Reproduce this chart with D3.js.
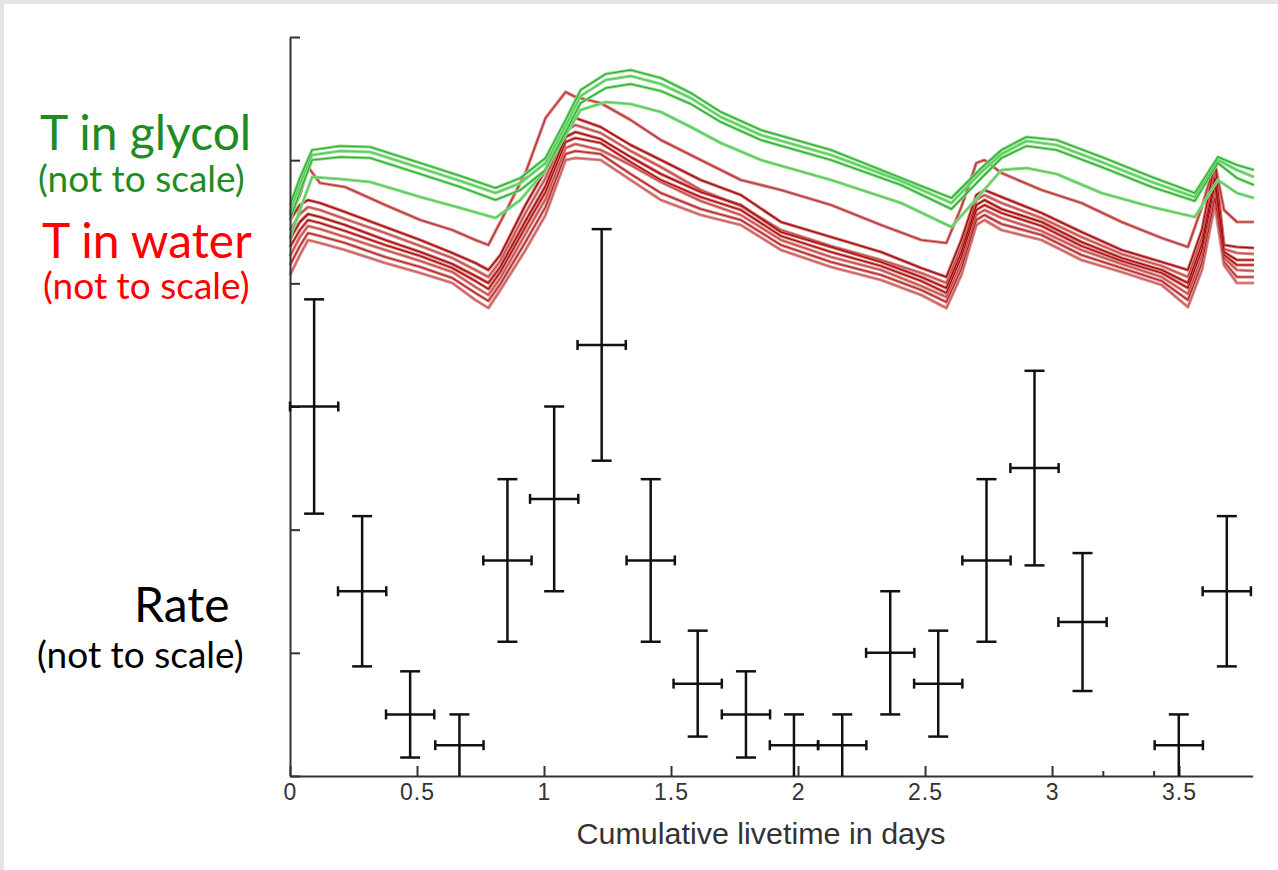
<!DOCTYPE html>
<html>
<head>
<meta charset="utf-8">
<script src="https://cdn.jsdelivr.net/npm/d3@7"></script>
<style>
body{margin:0;background:#fff}
svg{display:block}
</style>
</head>
<body>
<svg id="chart" width="1278" height="870"></svg>
<script>
// rate histogram (arbitrary units), one entry per filled time bin
const binCenters=[0.095,0.284,0.473,0.667,0.856,1.04,1.227,1.42,1.605,1.795,1.984,2.174,2.363,2.552,2.742,2.931,3.12,3.499,3.688];
const rates=[3.0,1.5,0.5,0.25,1.75,2.25,3.5,1.75,0.75,0.5,0.25,0.25,1.0,0.75,1.75,2.5,1.25,0.25,1.5];
const rateErr=[0.87,0.61,0.35,0.25,0.66,0.75,0.94,0.66,0.43,0.35,0.25,0.25,0.5,0.43,0.66,0.79,0.56,0.25,0.61];
const binHalf=0.095;

const xTicks=[0,0.5,1,1.5,2,2.5,3,3.5];
const minorTicks=[3.2,3.4];
const yTicks=[0,1,2,3,4,5,6];

// temperature traces (not to scale)
const glycolTimes=[0,0.039,0.087,0.197,0.316,0.513,0.671,0.809,0.907,1.006,1.085,1.144,1.243,1.341,1.46,1.578,1.696,1.854,2.13,2.406,2.604,2.722,2.801,2.899,3.018,3.195,3.393,3.562,3.653,3.728,3.795];
const glycol1=[11.5,14.2,17.0,17.4,17.3,15.7,14.4,13.2,14.2,16.2,20.0,23.0,24.6,25.0,24.2,22.7,20.8,19.0,17.0,14.2,12.2,15.2,17.0,18.3,18.0,16.3,14.3,12.7,16.3,15.5,15.0];
const glycol2=[10.8,13.6,16.5,16.9,16.8,15.2,13.9,12.7,13.7,15.7,19.4,22.4,24.0,24.4,23.6,22.2,20.3,18.5,16.5,13.9,11.7,14.8,16.6,17.9,17.5,15.8,13.8,12.3,16.0,15.0,14.3];
const glycol3=[10.0,12.8,16.0,16.3,16.2,14.6,13.3,12.0,13.0,15.0,18.8,21.7,23.2,23.6,22.9,21.6,19.8,18.0,16.0,13.5,11.1,14.2,16.2,17.4,17.0,15.3,13.3,11.9,15.7,14.2,13.5];
const glycol4=[8.2,11.0,14.3,14.1,13.8,12.3,11.2,10.2,12.0,15.0,18.5,21.0,21.8,21.6,20.8,19.3,17.7,16.0,14.0,11.7,9.3,12.7,15.0,15.2,14.6,12.7,11.3,10.3,14.0,12.7,12.2];

const waterTimes=[0,0.039,0.071,0.118,0.217,0.375,0.513,0.639,0.73,0.781,0.828,0.927,1.006,1.085,1.124,1.223,1.341,1.46,1.617,1.775,1.933,2.13,2.327,2.485,2.584,2.643,2.702,2.734,2.801,2.959,3.116,3.274,3.432,3.535,3.59,3.641,3.677,3.728,3.795];
const water1=[10.5,12.5,15.3,13.7,13.3,11.5,10.0,9.0,8.0,7.5,9.8,14.7,20.2,22.8,22.3,21.7,20.0,18.0,16.0,14.0,13.0,11.5,9.5,8.0,7.7,11.3,15.7,16.0,14.7,13.0,11.7,9.8,8.2,7.3,11.3,15.7,11.0,9.8,9.8];
const water2=[10.0,11.5,12.0,11.7,10.8,9.3,8.0,6.7,5.7,5.0,6.5,11.5,15.0,19.5,20.2,19.3,17.5,16.0,14.0,12.5,9.8,8.3,6.8,5.2,4.3,8.0,12.5,13.0,12.3,10.7,8.8,7.0,5.8,5.0,9.0,15.7,7.5,7.3,7.2];
const water3=[9.0,10.6,11.3,11.0,10.1,8.7,7.4,6.2,5.0,4.3,5.9,10.7,14.2,18.9,19.5,18.7,16.9,15.3,13.0,11.4,9.0,7.4,6.0,4.7,3.7,7.4,12.0,12.5,11.7,10.2,8.3,6.6,5.4,4.3,8.3,14.9,7.1,6.7,6.6];
const water4=[8.1,9.8,10.6,10.3,9.5,8.0,6.8,5.6,4.4,3.7,5.3,9.9,13.4,18.3,18.8,18.1,16.3,14.6,12.8,11.5,8.8,7.3,5.8,4.3,3.2,6.8,11.5,12.0,11.1,9.8,7.8,6.2,5.0,3.7,7.6,14.2,6.8,6.0,6.0];
const water5=[7.3,9.0,10.0,9.7,8.9,7.5,6.4,5.2,3.9,3.1,4.8,9.3,12.8,17.8,18.2,17.7,15.8,14.0,12.3,11.0,8.4,6.8,5.4,3.9,2.7,6.3,11.0,11.5,10.7,9.4,7.4,5.9,4.7,3.2,7.0,13.6,6.5,5.5,5.5];
const water6=[6.4,8.3,9.4,9.1,8.3,7.0,5.9,4.8,3.3,2.5,4.2,8.6,12.1,17.2,17.6,17.0,15.5,13.8,11.9,10.5,8.0,6.3,5.0,3.4,2.3,5.7,10.5,11.0,10.2,8.9,7.0,5.6,4.3,2.6,6.4,13.0,6.2,5.0,4.9];
const water7=[5.5,7.4,8.7,8.4,7.7,6.3,5.3,4.2,2.7,1.9,3.6,7.8,11.3,16.6,16.9,16.6,14.6,12.7,11.1,10.0,7.5,5.8,4.5,3.0,1.8,5.1,10.0,10.5,9.6,8.5,6.5,5.2,3.9,2.0,5.7,12.2,5.8,4.3,4.3];
const water8=[4.5,6.5,8.0,7.7,7.0,5.7,4.7,3.7,2.0,1.2,3.0,7.0,10.5,16.0,16.2,16.0,14.0,12.0,10.5,9.5,7.0,5.3,4.0,2.5,1.2,4.5,9.5,10.0,9.0,8.0,6.0,4.8,3.5,1.3,5.0,11.5,5.5,3.7,3.7];

const svg=d3.select("#chart");
const W=1278,H=870;

svg.append("rect").attr("width",W).attr("height",H).attr("fill","#e4e4e4");
svg.append("rect").attr("x",4).attr("y",4).attr("width",W-4).attr("height",H-4).attr("fill","#fff");

const x=d3.scaleLinear().domain([0,3.79]).range([290,1252.7]);
const y=d3.scaleLinear().domain([0,6]).range([776,37]);
const tY=d3.scaleLinear().domain([0,28.3]).range([320,37]);

// temperature traces: pale halo under a thin darker core
function drawTraces(times,series,halo,core){
  const line=d3.line().x((d,i)=>x(times[i])).y(d=>tY(d));
  const g=svg.append("g").attr("fill","none").attr("stroke-linejoin","round");
  series.forEach((s,i)=>{
    g.append("path").attr("d",line(s)).attr("stroke",halo[i%halo.length]).attr("stroke-width",3.2);
  });
  series.forEach((s,i)=>{
    g.append("path").attr("d",line(s)).attr("stroke",core[i%core.length]).attr("stroke-width",1.1);
  });
}
drawTraces(waterTimes,[water1,water2,water3,water4,water5,water6,water7,water8],
  ["#d88080","#cf6a6a","#d98a8a","#cf6a6a","#d47676","#d98a8a","#d88080","#dc9090"],
  ["#b53030","#a00000","#c04848","#a00000","#a80000","#c04848","#b02020","#c85a5a"]);
drawTraces(glycolTimes,[glycol1,glycol2,glycol3,glycol4],["#86dc86"],["#2aa82a","#58c858","#2aa82a","#58c858"]);

// axes
const axL=svg.append("g").attr("transform","translate(290,0)")
  .call(d3.axisRight(y).tickValues(yTicks).tickSize(10).tickSizeOuter(0).tickFormat(""));
axL.select(".domain").attr("stroke","#333").attr("stroke-width",2);
axL.selectAll(".tick line").attr("stroke","#333").attr("stroke-width",2);

const axB=svg.append("g").attr("transform","translate(0,776)")
  .attr("font-size",23)
  .call(d3.axisBottom(x).tickValues(xTicks).tickSize(-10).tickSizeOuter(0).tickPadding(8).tickFormat(d3.format("")));
axB.select(".domain").attr("stroke","#333").attr("stroke-width",2);
axB.selectAll(".tick line").attr("stroke","#333").attr("stroke-width",2);
axB.selectAll(".tick text")
  .attr("font-family","'Liberation Sans Narrow','Liberation Sans',Arial,sans-serif")
  .style("font-size","23px").attr("letter-spacing","1px").attr("fill","#333");

const axM=svg.append("g").attr("transform","translate(0,776)")
  .call(d3.axisBottom(x).tickValues(minorTicks).tickSize(-5).tickSizeOuter(0).tickFormat(""));
axM.select(".domain").remove();
axM.selectAll(".tick line").attr("stroke","#333").attr("stroke-width",2);

svg.append("text")
  .attr("x",761).attr("y",844).attr("text-anchor","middle")
  .attr("font-family","'Liberation Sans Narrow','Liberation Sans',Arial,sans-serif")
  .attr("font-size","30px").attr("fill","#333")
  .attr("textLength",369).attr("lengthAdjust","spacingAndGlyphs")
  .text("Cumulative livetime in days");

// error bars
const bars=svg.append("g").attr("stroke","#111").attr("stroke-width",2.5).attr("fill","none");
binCenters.forEach((c,i)=>{
  const r=rates[i],e=rateErr[i];
  const cx=x(c),cy=y(r),y0=y(r-e),y1=y(r+e);
  const xl=x(c-binHalf),xr=x(c+binHalf);
  bars.append("line").attr("x1",cx).attr("x2",cx).attr("y1",y0).attr("y2",y1);
  bars.append("line").attr("x1",cx-10).attr("x2",cx+10).attr("y1",y1).attr("y2",y1);
  if(r-e>0.001) bars.append("line").attr("x1",cx-10).attr("x2",cx+10).attr("y1",y0).attr("y2",y0);
  bars.append("line").attr("x1",xl).attr("x2",xr).attr("y1",cy).attr("y2",cy);
  bars.append("line").attr("x1",xl).attr("x2",xl).attr("y1",cy-5).attr("y2",cy+5);
  bars.append("line").attr("x1",xr).attr("x2",xr).attr("y1",cy-5).attr("y2",cy+5);
});

// side labels
const font="Lato,'Open Sans',sans-serif";
const labels=[
  {t:"T in glycol",x:40,y:150,s:48,c:"#1f8c1f"},
  {t:"(not to scale)",x:38,y:192,s:37,c:"#1f8c1f"},
  {t:"T in water",x:42,y:258,s:48,c:"#ff0000"},
  {t:"(not to scale)",x:43,y:299,s:37,c:"#ff0000"},
  {t:"Rate",x:134,y:622,s:48,c:"#000"},
  {t:"(not to scale)",x:37,y:668,s:37,c:"#000"}
];
svg.selectAll(".side").data(labels).enter().append("text")
  .attr("class","side")
  .attr("x",d=>d.x).attr("y",d=>d.y)
  .attr("font-family",font).attr("font-size",d=>d.s+"px")
  .attr("fill",d=>d.c)
  .text(d=>d.t);
</script>
</body>
</html>
